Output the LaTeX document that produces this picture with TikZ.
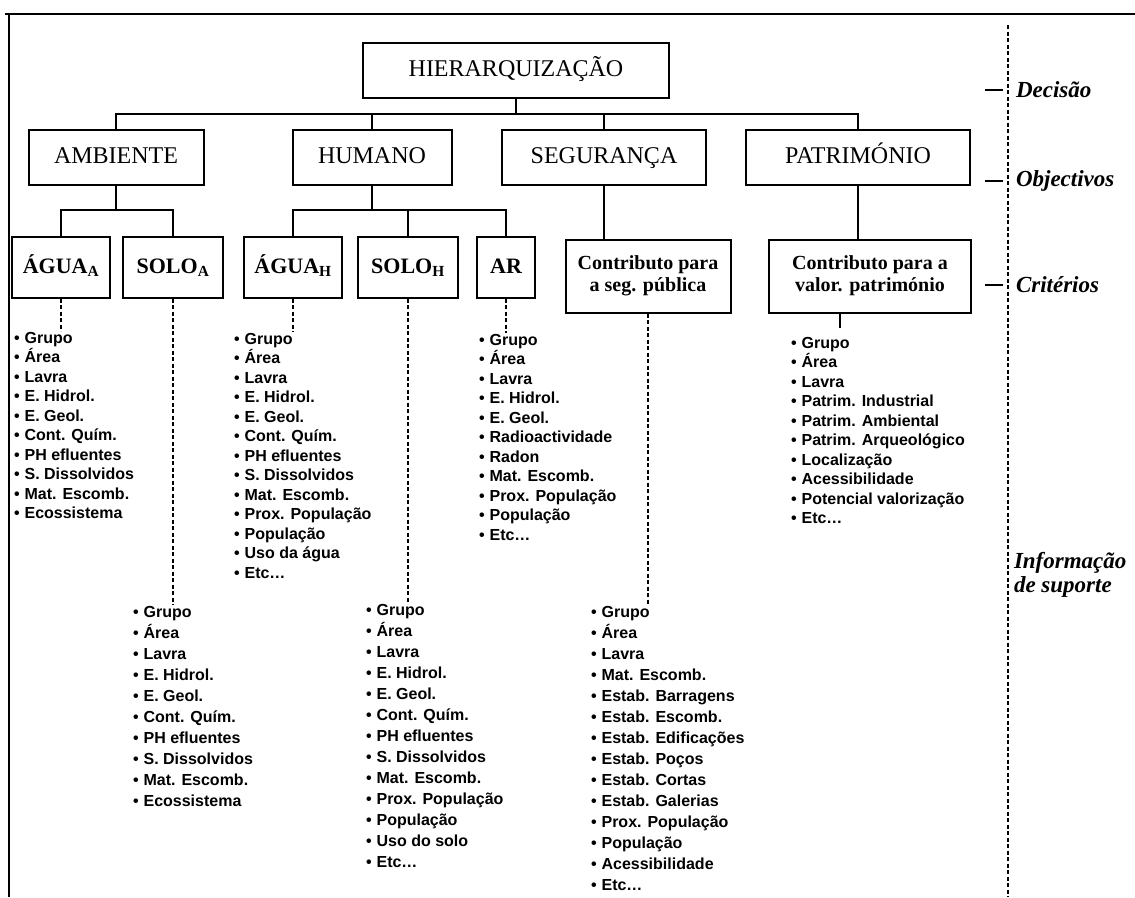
\documentclass[tikz,border=0pt]{standalone}
\usepackage{fontspec}
\setmainfont{Liberation Serif}
\newfontfamily\listfont{Liberation Sans}
\usetikzlibrary{positioning}

\newcommand\lbul{\textbullet\hspace{5pt}}

\tikzset{
  box/.style={draw, line width=2pt, inner sep=0pt, align=center},
  objbox/.style={box, font=\fontsize{24}{28}\selectfont, minimum height=55pt,
    text height=17pt, text depth=4pt},
  critbox/.style={box, font=\bfseries\fontsize{22}{24}\selectfont, minimum height=61pt,
    text height=16pt, text depth=4pt},
  contrbox/.style={box, font=\bfseries\fontsize{20}{22}\selectfont, minimum height=73pt},
  lst/.style={anchor=north west, inner sep=0pt, align=left,
    font=\listfont\bfseries\fontsize{16}{19.5}\selectfont},
  lstlow/.style={lst, font=\listfont\bfseries\fontsize{16}{21}\selectfont},
  lvl/.style={anchor=west, inner sep=0pt, align=left,
    font=\bfseries\itshape\fontsize{23}{24}\selectfont},
  dlink/.style={dash pattern=on 4pt off 2.5pt}
}

\begin{document}
\begin{tikzpicture}[x=1pt, y=-1pt, line width=2pt]
  \useasboundingbox (0,0) rectangle (1135,897);
  % moldura
  \draw (5,14) -- (1135,14);
  \draw (9,14) -- (9,897);
  \draw[dlink] (1008,25) -- (1008,897);

  % decisao e objectivos
  \node[objbox, minimum width=306pt] (hier) at (516,70) {HIERARQUIZAÇÃO};
  \node[objbox, minimum width=175pt] (amb) at (116,157) {AMBIENTE};
  \node[objbox, minimum width=159pt] (hum) at (372,157) {HUMANO};
  \node[objbox, minimum width=204pt] (seg) at (604,157) {SEGURANÇA};
  \node[objbox, minimum width=224pt] (pat) at (858,157) {PATRIMÓNIO};

  % criterios
  \node[critbox, minimum width=98pt] (aguaA) at (61,267) {ÁGUA\textsubscript{A}};
  \node[critbox, minimum width=100pt] (soloA) at (173,267) {SOLO\textsubscript{A}};
  \node[critbox, minimum width=98pt] (aguaH) at (293,267) {ÁGUA\textsubscript{H}};
  \node[critbox, minimum width=100pt] (soloH) at (408,267) {SOLO\textsubscript{H}};
  \node[critbox, minimum width=58pt] (ar) at (506,267) {AR};
  \node[contrbox, minimum width=165pt] (segp) at (648,276) {Contributo para\\a seg. pública};
  \node[contrbox, minimum width=202pt] (patv) at (870,276) {Contributo para a\\valor. património};

  % informacao de suporte
  \node[lst] (laguaA) at (13,331) {\lbul Grupo\\ \lbul Área\\ \lbul Lavra\\ \lbul E. Hidrol.\\
    \lbul E. Geol.\\ \lbul Cont. Quím.\\ \lbul PH efluentes\\ \lbul S. Dissolvidos\\
    \lbul Mat. Escomb.\\ \lbul Ecossistema};
  \node[lstlow] (lsoloA) at (132,605) {\lbul Grupo\\ \lbul Área\\ \lbul Lavra\\ \lbul E. Hidrol.\\
    \lbul E. Geol.\\ \lbul Cont. Quím.\\ \lbul PH efluentes\\ \lbul S. Dissolvidos\\
    \lbul Mat. Escomb.\\ \lbul Ecossistema};
  \node[lst] (laguaH) at (233,332) {\lbul Grupo\\ \lbul Área\\ \lbul Lavra\\ \lbul E. Hidrol.\\
    \lbul E. Geol.\\ \lbul Cont. Quím.\\ \lbul PH efluentes\\ \lbul S. Dissolvidos\\
    \lbul Mat. Escomb.\\ \lbul Prox. População\\ \lbul População\\ \lbul Uso da água\\
    \lbul Etc\dots};
  \node[lstlow] (lsoloH) at (365,603) {\lbul Grupo\\ \lbul Área\\ \lbul Lavra\\ \lbul E. Hidrol.\\
    \lbul E. Geol.\\ \lbul Cont. Quím.\\ \lbul PH efluentes\\ \lbul S. Dissolvidos\\
    \lbul Mat. Escomb.\\ \lbul Prox. População\\ \lbul População\\ \lbul Uso do solo\\
    \lbul Etc\dots};
  \node[lst] (lar) at (478,333) {\lbul Grupo\\ \lbul Área\\ \lbul Lavra\\ \lbul E. Hidrol.\\
    \lbul E. Geol.\\ \lbul Radioactividade\\ \lbul Radon\\ \lbul Mat. Escomb.\\
    \lbul Prox. População\\ \lbul População\\ \lbul Etc\dots};
  \node[lstlow] (lsegp) at (590,605) {\lbul Grupo\\ \lbul Área\\ \lbul Lavra\\ \lbul Mat. Escomb.\\
    \lbul Estab. Barragens\\ \lbul Estab. Escomb.\\ \lbul Estab. Edificações\\
    \lbul Estab. Poços\\ \lbul Estab. Cortas\\ \lbul Estab. Galerias\\
    \lbul Prox. População\\ \lbul População\\ \lbul Acessibilidade\\ \lbul Etc\dots};
  \node[lst] (lpatv) at (790,336) {\lbul Grupo\\ \lbul Área\\ \lbul Lavra\\
    \lbul Patrim. Industrial\\ \lbul Patrim. Ambiental\\ \lbul Patrim. Arqueológico\\
    \lbul Localização\\ \lbul Acessibilidade\\ \lbul Potencial valorização\\ \lbul Etc\dots};

  % niveis
  \node[lvl] (dec) at (1015,90) {Decisão};
  \node[lvl] (obj) at (1015,181) {Objectivos};
  \node[lvl] (cri) at (1015,285) {Critérios};
  \node[lvl] (inf) at (1013,575) {Informação\\de suporte};
  \foreach \n in {dec,obj,cri}
    \draw ([xshift=-30pt]\n.west) -- ([xshift=-12pt]\n.west);

  % ligacoes
  \coordinate (bus) at (516,114);
  \draw (hier.south) -- (bus);
  \draw (amb.north) |- (bus) -| (pat.north);
  \draw (hum.north) -- (hum.north |- bus);
  \draw (seg.north) -- (seg.north |- bus);

  \coordinate (busA) at (amb.south |- 0,210);
  \draw (amb.south) -- (busA);
  \draw (aguaA.north) |- (busA) -| (soloA.north);
  \coordinate (busH) at (hum.south |- 0,210);
  \draw (hum.south) -- (busH);
  \draw (aguaH.north) |- (busH) -| (ar.north);
  \draw (soloH.north) -- (soloH.north |- busH);
  \draw (seg.south) -- (seg.south |- segp.north);
  \draw (pat.south) -- (pat.south |- patv.north);

  \draw[dlink] (aguaA.south) -- (aguaA.south |- laguaA.north);
  \draw[dlink] (soloA.south) -- (soloA.south |- lsoloA.north);
  \draw[dlink] (aguaH.south) -- (aguaH.south |- laguaH.north);
  \draw[dlink] (soloH.south) -- (soloH.south |- lsoloH.north);
  \draw[dlink] (ar.south) -- (ar.south |- lar.north);
  \draw[dlink] (segp.south) -- (segp.south |- lsegp.north);
  \draw (patv.south) ++(-30,0) -- ++(0,14);
\end{tikzpicture}
\end{document}
